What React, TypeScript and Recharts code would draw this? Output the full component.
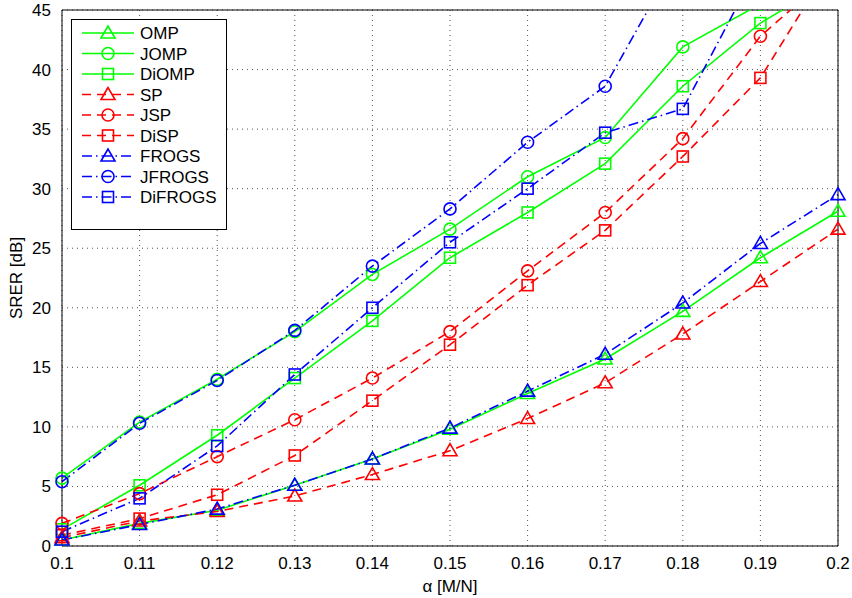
import React from 'react';
import { LineChart, Line, XAxis, YAxis, CartesianGrid, ReferenceLine, Label } from 'recharts';

// values (dB); points past 45 are off the top of the axes
const alpha = [0.1, 0.11, 0.12, 0.13, 0.14, 0.15, 0.16, 0.17, 0.18, 0.19, 0.2];
const omp = [0.5, 1.9, 3.0, 5.1, 7.3, 9.8, 12.8, 15.7, 19.7, 24.2, 28.1];
const jomp = [5.7, 10.4, 14.0, 18.0, 22.8, 26.6, 31.0, 34.3, 41.9, 45.5, 50.0];
const diomp = [1.4, 5.1, 9.3, 14.1, 18.9, 24.2, 28.0, 32.1, 38.6, 43.9, 47.8];
const sp = [0.7, 2.1, 2.9, 4.2, 6.0, 8.0, 10.7, 13.7, 17.8, 22.2, 26.6];
const jsp = [1.9, 4.4, 7.5, 10.6, 14.1, 18.0, 23.1, 28.0, 34.2, 42.8, 48.5];
const disp = [0.9, 2.3, 4.3, 7.6, 12.2, 16.9, 21.9, 26.5, 32.7, 39.3, 49.8];
const frogs = [0.5, 1.8, 3.1, 5.1, 7.3, 9.9, 13.0, 16.1, 20.4, 25.4, 29.5];
const jfrogs = [5.4, 10.3, 13.9, 18.1, 23.5, 28.3, 33.9, 38.6, 50.2, 56.0, 62.0];
const difrogs = [1.2, 4.0, 8.4, 14.4, 20.0, 25.5, 30.0, 34.7, 36.7, 49.0, 55.0];

const xTicks = [0.1, 0.11, 0.12, 0.13, 0.14, 0.15, 0.16, 0.17, 0.18, 0.19, 0.2];
const yTicks = [0, 5, 10, 15, 20, 25, 30, 35, 40, 45];

const GREEN = '#00ff00';
const RED = '#ff0000';
const BLUE = '#0000ff';
const SOLID = undefined;
const DASH = '9 6';
const DASHDOT = '10 4 1.5 4';
const FONT = 'Liberation Sans, Arial, sans-serif';

type Shape = 'tri' | 'circ' | 'sq';

const series: { key: string; name: string; values: number[]; color: string; dash?: string; shape: Shape }[] = [
  { key: 'omp', name: 'OMP', values: omp, color: GREEN, dash: SOLID, shape: 'tri' },
  { key: 'jomp', name: 'JOMP', values: jomp, color: GREEN, dash: SOLID, shape: 'circ' },
  { key: 'diomp', name: 'DiOMP', values: diomp, color: GREEN, dash: SOLID, shape: 'sq' },
  { key: 'sp', name: 'SP', values: sp, color: RED, dash: DASH, shape: 'tri' },
  { key: 'jsp', name: 'JSP', values: jsp, color: RED, dash: DASH, shape: 'circ' },
  { key: 'disp', name: 'DiSP', values: disp, color: RED, dash: DASH, shape: 'sq' },
  { key: 'frogs', name: 'FROGS', values: frogs, color: BLUE, dash: DASHDOT, shape: 'tri' },
  { key: 'jfrogs', name: 'JFROGS', values: jfrogs, color: BLUE, dash: DASHDOT, shape: 'circ' },
  { key: 'difrogs', name: 'DiFROGS', values: difrogs, color: BLUE, dash: DASHDOT, shape: 'sq' },
];

const data = alpha.map((a, i) => {
  const row: { [k: string]: number } = { alpha: a };
  series.forEach(s => { row[s.key] = s.values[i]; });
  return row;
});

const Marker = ({ cx, cy, shape, color }: { cx: number; cy: number; shape: Shape; color: string }) => {
  if (cx == null || cy == null) return null;
  if (shape === 'tri') {
    return <polygon points={`${cx},${cy - 7} ${cx - 7},${cy + 5} ${cx + 7},${cy + 5}`} fill="none" stroke={color} strokeWidth={1.6} />;
  }
  if (shape === 'circ') {
    return <circle cx={cx} cy={cy} r={6} fill="none" stroke={color} strokeWidth={1.6} />;
  }
  return <rect x={cx - 5.5} y={cy - 5.5} width={11} height={11} fill="none" stroke={color} strokeWidth={1.6} />;
};

const LegendBox = () => (
  <svg width={156} height={211} style={{ display: 'block' }}>
    <rect x={0.5} y={0.5} width={155} height={210} fill="#fff" stroke="#000" strokeWidth={1} />
    {series.map((s, i) => {
      const y = 14 + i * 20.5;
      return (
        <g key={s.key}>
          <line x1={11} x2={63} y1={y} y2={y} stroke={s.color} strokeWidth={1.6} strokeDasharray={s.dash} />
          <Marker cx={37} cy={y} shape={s.shape} color={s.color} />
          <text x={69} y={y + 6} fontSize={17} fontFamily={FONT} fill="#000">{s.name}</text>
        </g>
      );
    })}
  </svg>
);

export default function App() {
  return (
    <div style={{ position: 'absolute', left: 0, top: 0, width: 852, height: 598, background: '#fff' }}>
      <LineChart width={852} height={598} data={data} margin={{ top: 10, right: 14, left: 0, bottom: 0 }}>
        <CartesianGrid stroke="#555" strokeDasharray="1 4" />
        <XAxis
          dataKey="alpha"
          type="number"
          domain={[0.1, 0.2]}
          ticks={xTicks}
          tickFormatter={(v: number) => String(Math.round(v * 100) / 100)}
          height={52}
          stroke="#000"
          tickLine={false}
          tickMargin={5}
          tick={{ fill: '#000', fontSize: 17, fontFamily: FONT }}
        >
          <Label value="α [M/N]" position="insideBottom" offset={6} style={{ fill: '#000', fontSize: 17, fontFamily: FONT }} />
        </XAxis>
        <YAxis
          type="number"
          domain={[0, 45]}
          ticks={yTicks}
          allowDataOverflow
          width={62}
          stroke="#000"
          tickLine={false}
          tickMargin={5}
          tick={{ fill: '#000', fontSize: 17, fontFamily: FONT }}
        >
          <Label value="SRER [dB]" angle={-90} position="insideLeft" offset={16} style={{ textAnchor: 'middle', fill: '#000', fontSize: 17, fontFamily: FONT }} />
        </YAxis>
        <ReferenceLine y={45} stroke="#000" strokeWidth={1} />
        <ReferenceLine x={0.2} stroke="#000" strokeWidth={1} />
        {series.map(s => (
          <Line
            key={s.key}
            dataKey={s.key}
            name={s.name}
            stroke={s.color}
            strokeWidth={1.6}
            strokeDasharray={s.dash}
            isAnimationActive={false}
            dot={(p: any) => <Marker key={`${s.key}-${p.index}`} cx={p.cx} cy={p.cy} shape={s.shape} color={s.color} />}
            activeDot={false}
          />
        ))}
      </LineChart>
      <div style={{ position: 'absolute', left: 71, top: 19 }}>
        <LegendBox />
      </div>
    </div>
  );
}
